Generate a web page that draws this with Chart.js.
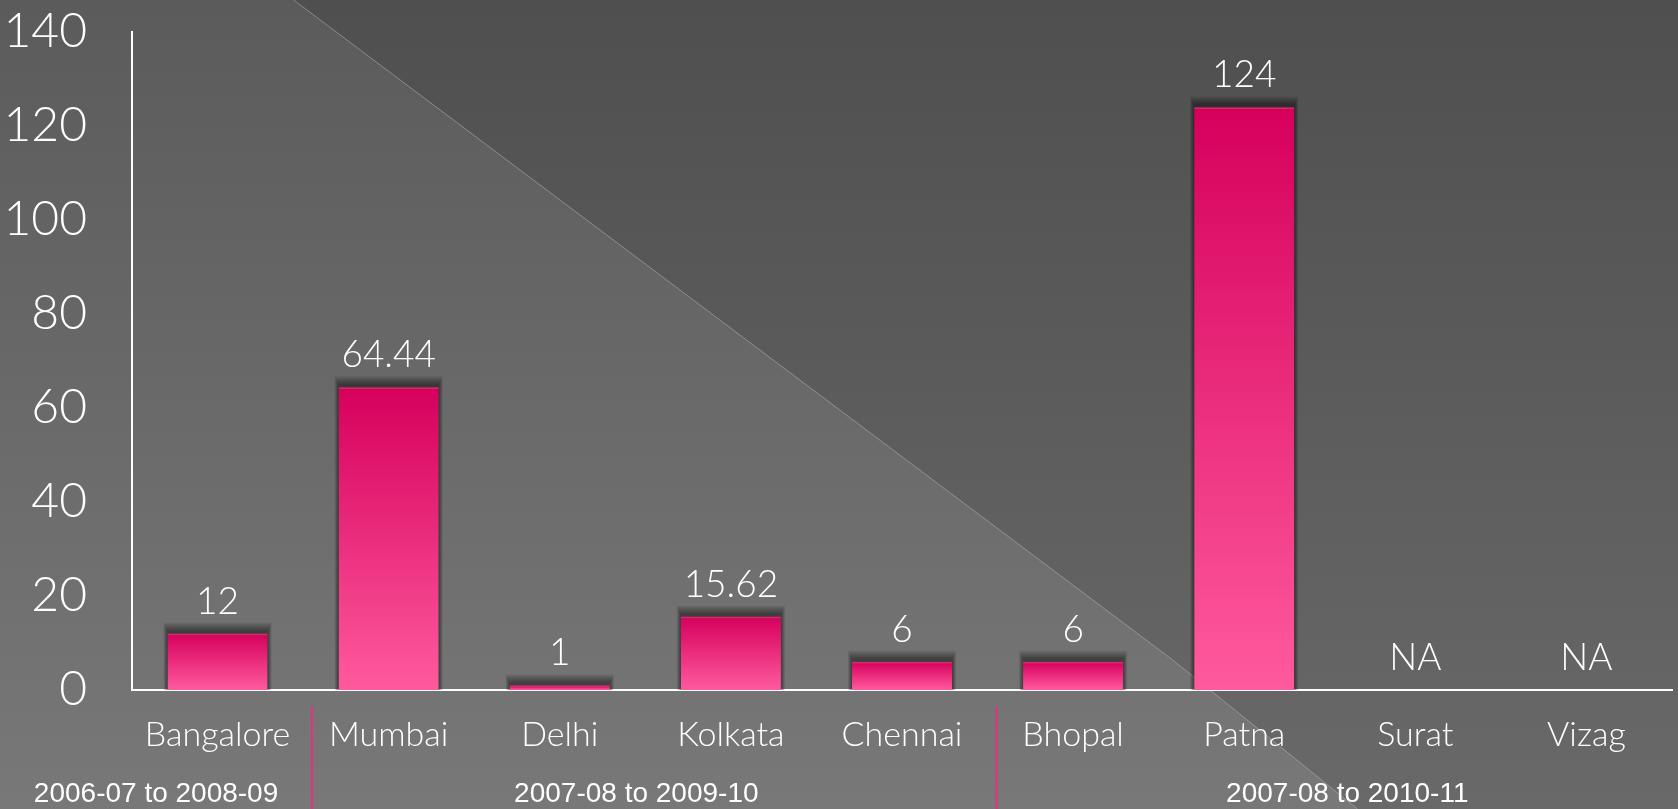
<!DOCTYPE html>
<html>
<head>
<meta charset="utf-8">
<script src="https://cdn.jsdelivr.net/npm/chart.js@4"></script>
<style>
  html, body { margin: 0; padding: 0; background: #666; }
  #wrap { width: 1678px; height: 809px; }
</style>
</head>
<body>
<div id="wrap"><canvas id="myBarChart"></canvas></div>
<script>
// datos del gráfico
const cities = ['Bangalore', 'Mumbai', 'Delhi', 'Kolkata', 'Chennai', 'Bhopal', 'Patna', 'Surat', 'Vizag'];
const values = [12, 64.44, 1, 15.62, 6, 6, 124, null, null];
const yTicks = [0, 20, 40, 60, 80, 100, 120, 140];
const periods = ['2006-07 to 2008-09', '2007-08 to 2009-10', '2007-08 to 2010-11'];
const periodStart = [0, 1, 5];

const FONT = "Lato, 'DejaVu Sans', sans-serif";

// fondo gris con diagonal
const bgPlugin = {
    id: 'bg',
    beforeDraw(chart) {
        const { ctx, width, height } = chart;
        ctx.save();
        let g = ctx.createLinearGradient(0, 0, 0, height);
        g.addColorStop(0, '#5b5b5b');
        g.addColorStop(1, '#787878');
        ctx.fillStyle = g;
        ctx.fillRect(0, 0, width, height);
        const pts = [[width * 0.175, 0], [width * 0.699, height * 0.816], [width * 0.809, height]];
        g = ctx.createLinearGradient(0, 0, 0, height);
        g.addColorStop(0, '#4f4f4f');
        g.addColorStop(1, '#696969');
        ctx.fillStyle = g;
        ctx.beginPath();
        ctx.moveTo(pts[0][0], 0);
        ctx.lineTo(width, 0);
        ctx.lineTo(width, height);
        ctx.lineTo(pts[2][0], pts[2][1]);
        ctx.lineTo(pts[1][0], pts[1][1]);
        ctx.closePath();
        ctx.fill();
        ctx.strokeStyle = 'rgba(190,190,190,0.5)';
        ctx.lineWidth = 1;
        ctx.beginPath();
        ctx.moveTo(pts[0][0], pts[0][1]);
        ctx.lineTo(pts[1][0], pts[1][1]);
        ctx.lineTo(pts[2][0], pts[2][1]);
        ctx.stroke();
        ctx.restore();
    }
};

// sombra suave detrás de las barras (capas semitransparentes)
const shadowPlugin = {
    id: 'barShadow',
    beforeDatasetsDraw(chart) {
        const ctx = chart.ctx;
        const meta = chart.getDatasetMeta(0);
        ctx.save();
        ctx.fillStyle = 'rgba(0,0,0,0.06)';
        meta.data.forEach((el, i) => {
            if (values[i] == null) return;
            const half = el.width / 2;
            for (let k = 1; k <= 9; k++) {
                ctx.fillRect(el.x - half - k * 0.45, el.y - 2 - k, el.width + k * 0.9, el.base - el.y + 2 + k);
            }
        });
        ctx.restore();
    }
};

// etiquetas de valores y periodos
const labelsPlugin = {
    id: 'labels',
    afterDraw(chart) {
        const ctx = chart.ctx;
        const xs = chart.scales.x, ys = chart.scales.y;
        const meta = chart.getDatasetMeta(0);
        ctx.save();
        ctx.fillStyle = '#ffffff';
        ctx.textAlign = 'center';
        ctx.textBaseline = 'middle';
        ctx.font = '300 37px ' + FONT;
        meta.data.forEach((el, i) => {
            const v = values[i];
            const y = v == null ? ys.getPixelForValue(0) : el.y;
            ctx.fillText(v == null ? 'NA' : String(v), xs.getPixelForValue(i), y - 32);
        });

        // separadores y periodos
        const seps = periodStart.map(s => s === 0 ? 0 : (xs.getPixelForValue(s - 1) + xs.getPixelForValue(s)) / 2 + 9);
        seps.push(chart.width + 20);
        ctx.strokeStyle = '#e8307c';
        ctx.lineWidth = 2;
        seps.slice(1, -1).forEach(x => {
            ctx.beginPath();
            ctx.moveTo(x, 706);
            ctx.lineTo(x, chart.height);
            ctx.stroke();
        });
        ctx.font = "28px 'Liberation Sans', Arial, sans-serif";
        periods.forEach((p, i) => {
            ctx.fillText(p, (seps[i] + seps[i + 1]) / 2 - (i === 1 ? 18 : 0), 794);
        });
        ctx.restore();
    }
};

const ctx = document.getElementById('myBarChart').getContext('2d');
new Chart(ctx, {
    type: 'bar',
    data: {
        labels: cities,
        datasets: [{
            data: values,
            backgroundColor: (c) => {
                const chart = c.chart;
                if (!chart.chartArea || c.raw == null) return '#f0407f';
                const ys = chart.scales.y;
                const g = chart.ctx.createLinearGradient(0, ys.getPixelForValue(c.raw), 0, ys.getPixelForValue(0));
                g.addColorStop(0, '#d6005c');
                g.addColorStop(1, '#ff5a9e');
                return g;
            },
            borderColor: '#e8226f',
            borderWidth: { top: 2, left: 0, right: 0, bottom: 0 },
            borderSkipped: 'bottom',
            categoryPercentage: 1,
            barPercentage: 0.585,
        }],
    },
    options: {
        responsive: true,
        maintainAspectRatio: false,
        animation: false,
        layout: { padding: { top: 32, right: 6, left: 0, bottom: 0 } },
        plugins: {
            legend: { display: false },
            tooltip: { enabled: false },
        },
        scales: {
            x: {
                grid: { display: false, drawTicks: false },
                border: { color: '#ffffff', width: 2 },
                ticks: {
                    color: '#ffffff',
                    font: { family: FONT, size: 34, weight: '300' },
                    padding: 25,
                    maxRotation: 0,
                },
                afterFit: (s) => { s.height = 119; s.paddingLeft = 0; s.paddingRight = 0; },
            },
            y: {
                min: 0,
                max: 140,
                grid: { display: false, drawTicks: false },
                border: { color: '#ffffff', width: 2 },
                afterBuildTicks: (s) => { s.ticks = yTicks.map(v => ({ value: v })); },
                ticks: {
                    color: '#ffffff',
                    font: { family: FONT, size: 48, weight: '300' },
                    padding: 45,
                },
                afterFit: (s) => { s.width = 132; s.paddingTop = 0; s.paddingBottom = 0; },
            },
        },
    },
    plugins: [bgPlugin, shadowPlugin, labelsPlugin],
});
</script>
</body>
</html>
